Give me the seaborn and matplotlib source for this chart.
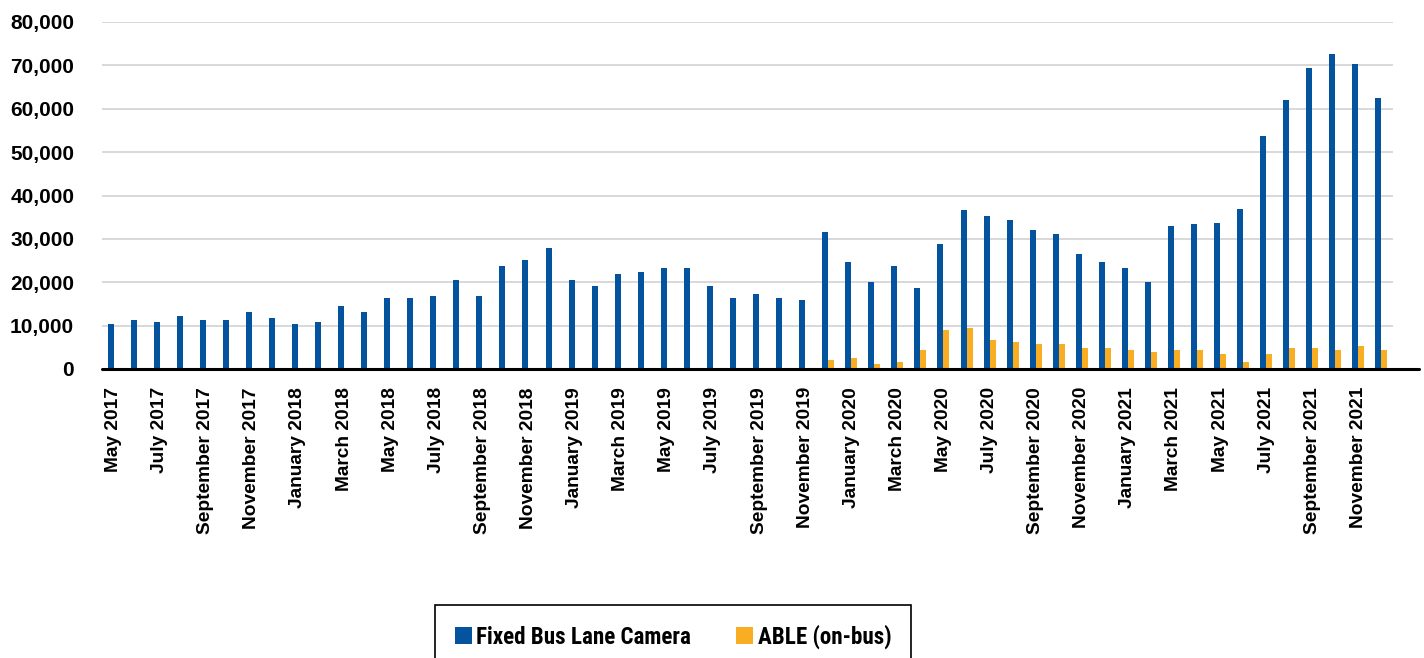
import numpy as np
import pandas as pd
import matplotlib
matplotlib.use("Agg")
import matplotlib.pyplot as plt
import seaborn as sns

# Monthly violations issued, May 2017 - December 2021
months = [
    "May 2017", "June 2017", "July 2017", "August 2017", "September 2017",
    "October 2017", "November 2017", "December 2017",
    "January 2018", "February 2018", "March 2018", "April 2018", "May 2018",
    "June 2018", "July 2018", "August 2018", "September 2018", "October 2018",
    "November 2018", "December 2018",
    "January 2019", "February 2019", "March 2019", "April 2019", "May 2019",
    "June 2019", "July 2019", "August 2019", "September 2019", "October 2019",
    "November 2019", "December 2019",
    "January 2020", "February 2020", "March 2020", "April 2020", "May 2020",
    "June 2020", "July 2020", "August 2020", "September 2020", "October 2020",
    "November 2020", "December 2020",
    "January 2021", "February 2021", "March 2021", "April 2021", "May 2021",
    "June 2021", "July 2021", "August 2021", "September 2021", "October 2021",
    "November 2021", "December 2021",
]

fixed_camera = [
    10400, 11350, 10900, 12270, 11350, 11350, 13190, 11810,
    10430, 10890, 14570, 13190, 16410, 16410, 16870, 20550,
    16870, 23770, 25150, 27910,
    20550, 19170, 21930, 22390, 23310, 23310, 19170, 16410,
    17330, 16410, 15950, 31590,
    24690, 20090, 23770, 18710, 28830, 36660, 35280, 34360,
    32060, 31130, 26530, 24690,
    23310, 20090, 32980, 33440, 33590, 36810, 53830, 62040,
    69400, 72700, 70400, 62580,
]

able_on_bus = [np.nan] * 31 + [
    2150,
    2600, 1230, 1690, 4450, 9050, 9510, 6750, 6290,
    5830, 5830, 4910, 4910,
    4450, 3990, 4450, 4450, 3530, 1690, 3530, 4910,
    4910, 4450, 5370, 4450,
]

series_names = ["Fixed Bus Lane Camera", "ABLE (on-bus)"]
series_colors = ["#03539f", "#f9ad22"]
y_ticks = [0, 10000, 20000, 30000, 40000, 50000, 60000, 70000, 80000]

df = pd.DataFrame({
    "month": months * 2,
    "violations": fixed_camera + able_on_bus,
    "series": [series_names[0]] * len(months) + [series_names[1]] * len(months),
})

sns.set_theme(style="white")
plt.rcParams["font.family"] = ["Liberation Sans", "DejaVu Sans"]
plt.rcParams["text.color"] = "black"

fig = plt.figure(figsize=(14.24, 6.58), dpi=100)
ax = fig.add_axes([102 / 1424, 1 - 369 / 658, (1393 - 102) / 1424, (369 - 22) / 658])

sns.barplot(
    data=df, x="month", y="violations", hue="series",
    order=months, hue_order=series_names, palette=series_colors,
    width=0.52, errorbar=None, linewidth=0, saturation=1, ax=ax,
)

ax.set_ylim(0, 80000)
ax.set_xlim(-0.5, len(months) - 0.5)
ax.set_yticks(y_ticks)
ax.set_yticklabels([f"{v:,}" for v in y_ticks], fontsize=15, fontweight="bold")
ax.set_xticks(range(0, len(months), 2))
ax.set_xticklabels(months[::2], rotation=90, fontsize=13.8, fontweight="bold")
ax.tick_params(axis="both", length=0, colors="black")
ax.tick_params(axis="y", pad=20)
ax.tick_params(axis="x", pad=13)
ax.set_xlabel("")
ax.set_ylabel("")

ax.set_axisbelow(True)
ax.yaxis.grid(True, color="#d2d2d2", linewidth=1.2)
for side in ["top", "right", "left", "bottom"]:
    ax.spines[side].set_visible(False)

# baseline runs slightly past the plotting area on the right
ax.plot([0, 1.02], [0, 0], color="black", linewidth=2.2,
        transform=ax.get_yaxis_transform(), clip_on=False, zorder=5)

handles, labels = ax.get_legend_handles_labels()
ax.get_legend().remove()
leg = fig.legend(
    handles, labels, loc="upper left", bbox_to_anchor=(435 / 1424, 1 - 605 / 658),
    borderaxespad=0, ncol=2, frameon=True, fancybox=False, framealpha=1,
    edgecolor="black", borderpad=0.85, handlelength=0.74, handleheight=0.8,
    handletextpad=0.2, columnspacing=1.95, labelcolor="black",
    prop={"family": ["Roboto Condensed", "DejaVu Sans"], "weight": "bold", "size": 16.6},
)
leg.get_frame().set_linewidth(1.2)

fig.savefig("out.png", dpi=100)
